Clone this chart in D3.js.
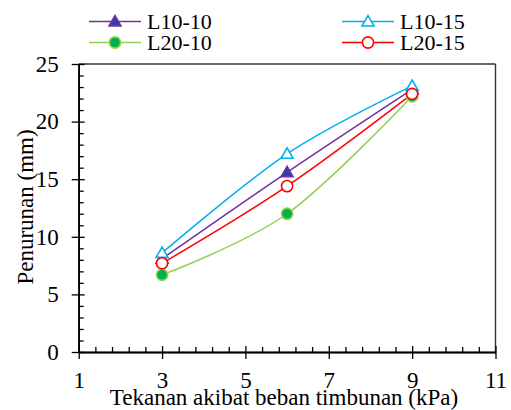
<!DOCTYPE html>
<html>
<head>
<meta charset="utf-8">
<script src="https://cdn.jsdelivr.net/npm/d3@7"></script>
<style>
  html, body { margin: 0; padding: 0; background: #fff; }
  svg { display: block; }
</style>
</head>
<body>
<svg id="chart" width="511" height="410"></svg>
<script>
// ---- data ----
const xValues = [3, 6, 9];
const seriesNames = ["L10-10", "L10-15", "L20-10", "L20-15"];
const valsL1010 = [8.1, 15.6, 22.8];
const valsL1015 = [8.6, 17.2, 23.1];
const valsL2010 = [6.7, 12.0, 22.2];
const valsL2015 = [7.7, 14.4, 22.4];
const xMajorTicks = [1, 3, 5, 7, 9, 11];
const yMajorTicks = [0, 5, 10, 15, 20, 25];
const xLabel = "Tekanan akibat beban timbunan (kPa)";
const yLabel = "Penurunan (mm)";

const FONT = "'Liberation Serif', 'Times New Roman', Times, 'DejaVu Serif', serif";

const styles = {
  "L10-10": { line: "#7030a0", marker: "triangle", fill: "#3040a8", stroke: "#7030a0" },
  "L10-15": { line: "#00b0f0", marker: "triangle", fill: "#ffffff", stroke: "#00b0f0" },
  "L20-10": { line: "#92d050", marker: "circle", fill: "#00b050", stroke: "#92d050" },
  "L20-15": { line: "#ff0000", marker: "circle", fill: "#ffffff", stroke: "#ff0000" }
};
const seriesVals = { "L10-10": valsL1010, "L10-15": valsL1015, "L20-10": valsL2010, "L20-15": valsL2015 };

const svg = d3.select("#chart");
const x = d3.scaleLinear().domain([1, 11]).range([78.7, 495.5]);
const y = d3.scaleLinear().domain([0, 25]).range([352, 64]);

const xMinor = d3.range(0, 26).map(i => +(1 + i * 0.4).toFixed(2)).filter(v => v > 1 && v < 11 && !xMajorTicks.includes(v));
const yMinor = d3.range(0, 26).filter(v => v % 5 !== 0);

// frame (top & right)
svg.append("line").attr("x1", x(1)).attr("x2", x(11)).attr("y1", y(25)).attr("y2", y(25))
  .attr("stroke", "#333").attr("stroke-width", 1.4);
svg.append("line").attr("x1", x(11)).attr("x2", x(11)).attr("y1", y(25)).attr("y2", y(0))
  .attr("stroke", "#333").attr("stroke-width", 1.4);

function styleAxis(g) {
  g.selectAll("path").attr("stroke", "#000").attr("stroke-width", 1.5);
  g.selectAll("line").attr("stroke", "#000").attr("stroke-width", 1.3);
}
function styleText(sel, size) {
  sel.style("font-family", FONT).style("font-size", size + "px").style("fill", "#000");
}

// X axis
const gx = svg.append("g").attr("transform", `translate(0,${y(0)})`);
gx.append("g").call(d3.axisBottom(x).tickValues(xMinor).tickSize(-5).tickFormat("").tickSizeOuter(0))
  .call(styleAxis);
gx.append("g").call(d3.axisBottom(x).tickValues(xMajorTicks).tickSize(-6).tickFormat("").tickSizeOuter(0))
  .call(styleAxis);
const gxMain = gx.append("g").call(d3.axisBottom(x).tickValues(xMajorTicks).tickSize(7).tickPadding(13).tickSizeOuter(0).tickFormat(d3.format("d")))
  .call(styleAxis);
styleText(gxMain.selectAll("text"), 23);

// Y axis
const gy = svg.append("g").attr("transform", `translate(${x(1)},0)`);
gy.append("g").call(d3.axisLeft(y).tickValues(yMinor).tickSize(-5).tickFormat("").tickSizeOuter(0))
  .call(styleAxis);
gy.append("g").call(d3.axisLeft(y).tickValues(yMajorTicks).tickSize(7).tickFormat("").tickSizeOuter(0))
  .call(styleAxis);
const gyMain = gy.append("g").call(d3.axisLeft(y).tickValues(yMajorTicks).tickSize(-6).tickPadding(20).tickSizeOuter(0).tickFormat(d3.format("d")))
  .call(styleAxis);
styleText(gyMain.selectAll("text"), 23);

// axis titles
styleText(svg.append("text").attr("x", 284).attr("y", 405).attr("text-anchor", "middle").text(xLabel), 23);
styleText(svg.append("text").attr("transform", "translate(33,207) rotate(-90)").attr("text-anchor", "middle").text(yLabel), 23);

// markers
const triSym = d3.symbol().type(d3.symbolTriangle).size(62);
function drawMarker(g, name, cx, cy) {
  const s = styles[name];
  if (s.marker === "triangle") {
    g.append("path").attr("d", triSym()).attr("transform", `translate(${cx},${cy + 1})`)
      .attr("fill", s.fill).attr("stroke", s.stroke).attr("stroke-width", 1.6);
  } else {
    g.append("circle").attr("cx", cx).attr("cy", cy).attr("r", 5.6)
      .attr("fill", s.fill).attr("stroke", s.stroke).attr("stroke-width", 1.6);
  }
}

// series
const lineGen = d3.line().x(d => x(d[0])).y(d => y(d[1])).curve(d3.curveCardinal.tension(0));
const plot = svg.append("g");
seriesNames.forEach(name => {
  const pts = xValues.map((xv, i) => [xv, seriesVals[name][i]]);
  plot.append("path").attr("d", lineGen(pts)).attr("fill", "none")
    .attr("stroke", styles[name].line).attr("stroke-width", 1.5);
});
seriesNames.forEach(name => {
  xValues.forEach((xv, i) => drawMarker(plot, name, x(xv), y(seriesVals[name][i])));
});

// legend
const legendPos = [
  { name: "L10-10", x0: 89, y0: 21.5 },
  { name: "L10-15", x0: 342, y0: 21.5 },
  { name: "L20-10", x0: 89, y0: 42.5 },
  { name: "L20-15", x0: 342, y0: 42.5 }
];
const leg = svg.append("g");
legendPos.forEach(p => {
  leg.append("line").attr("x1", p.x0).attr("x2", p.x0 + 52).attr("y1", p.y0).attr("y2", p.y0)
    .attr("stroke", styles[p.name].line).attr("stroke-width", 1.5);
  drawMarker(leg, p.name, p.x0 + 26, p.y0);
  styleText(leg.append("text").attr("x", p.x0 + 58).attr("y", p.y0 + 7.5).text(p.name), 22);
});
</script>
</body>
</html>
